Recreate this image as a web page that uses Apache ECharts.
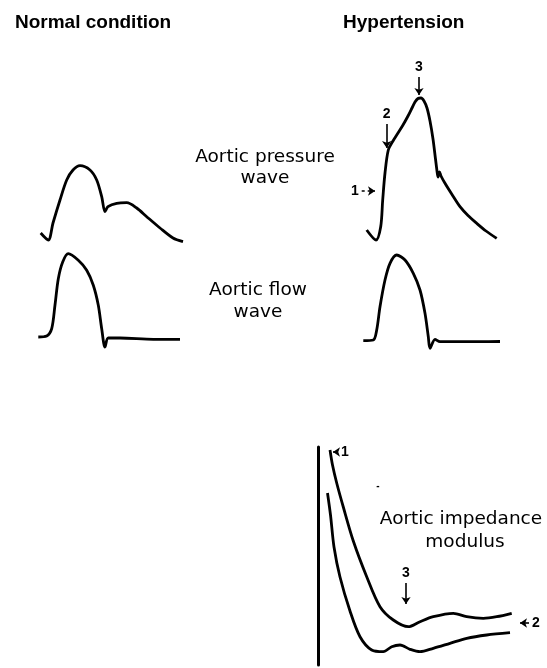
<!DOCTYPE html>
<html><head><meta charset="utf-8">
<script src="https://cdn.jsdelivr.net/npm/echarts@6/dist/echarts.min.js"></script>
<style>html,body{margin:0;padding:0;background:#fff}#c{width:547px;height:668px}</style>
</head><body><div id="c"></div>
<script>
// Values, in each panel's own units (time, amplitude)
const normalPressure = [[2.7,12],[10.3,5],[15,22],[22,45],[28.7,65],[35,75],[42,79.3],[52,75],[58.7,65],[63.7,48.3],[67,33.3],[70,38.3],[78.7,41.7],[88.7,42.3],[98.7,37],[108.7,28.3],[122,17],[135,7],[145,3.3]];
const hyperPressure = [[26.7,15],[36,5],[40.7,18.3],[42.7,45],[45,72],[48.3,95],[53,104],[58,112],[63,120],[68,129],[72,137],[75,143],[78,146.5],[81,147],[84,144],[87,137],[90,124],[93,106],[95.5,86],[97,74],[98,68],[99.5,73],[101,69],[105,61.7],[112,50.5],[120,38.3],[128,29.5],[136.7,21.7],[146,14],[156.7,6.7]];
const normalFlow = [[8.3,15],[16.7,16],[21.7,23.3],[25,47],[28.3,73.3],[32.7,90],[38.3,98.3],[48.3,91.7],[56.7,81.7],[63.3,66.7],[68.3,46.7],[71.7,23.3],[75,5],[78.3,14],[90,14],[123.3,12.7],[150,12.7]];
const hyperFlow = [[13.3,9.3],[23.3,10],[26.7,20],[30,43.3],[35,70],[40,86.7],[46.7,95],[55,90],[63.3,76.7],[70,60],[75,36.7],[78.3,13.3],[80,1.7],[85,10.7],[90,8.3],[130,8.3],[150,8.5]];
const impedanceHyper = [[12,215],[14.5,200],[18.7,182],[25.3,158],[35.3,124],[48.7,88.3],[62,58.3],[75.3,45],[90.3,38.3],[102,43.3],[115.3,48.3],[135.3,51.7],[148.7,48.3],[165.3,46.7],[178.7,48.3],[193.7,51.7]];
const impedanceNormal = [[9.5,172],[12.5,150],[16,118],[22,88],[32,54],[42,28.3],[53.7,15],[65.3,13.3],[73.7,18.3],[82,20],[92,15.7],[102,13.3],[115.3,16.7],[132,21.7],[148.7,26.7],[168.7,30],[192,32.3]];

// Annotations (panel units)
const pressureMarks = [
  {label:'3', from:[79,168], to:[79,150]},
  {label:'2', from:[46.7,121], to:[46.7,97]},
  {label:'1', from:[21.7,54], to:[35,54], dashed:true}
];
const impedanceMarks = [
  {label:'3', from:[88,82], to:[88,61]},
  {label:'2', from:[211,42], to:[202,42]},
  {label:'1', from:[20,213], to:[15,213]}
];

const titles = ['Normal condition','Hypertension'];
const rowLabels = [['Aortic pressure','wave'],['Aortic flow','wave'],['Aortic impedance','modulus']];

const panels = [
  {left:38, top:145, width:150, height:100},
  {left:340, top:50, width:160, height:195},
  {left:30, top:242, width:160, height:110},
  {left:350, top:240, width:160, height:110},
  {left:318, top:447, width:229, height:218}
];

const chart = echarts.init(document.getElementById('c'), null, {renderer:'canvas'});
const grid = panels.map(p => ({left:p.left, top:p.top, width:p.width, height:p.height, containLabel:false}));
const xAxis = panels.map((p,i) => ({gridIndex:i, type:'value', min:0, max:p.width, show:false}));
const yAxis = panels.map((p,i) => ({gridIndex:i, type:'value', min:0, max:p.height,
  show: i===4, axisLine:{show:i===4, lineStyle:{color:'#000', width:3}}, axisTick:{show:false}, axisLabel:{show:false}, splitLine:{show:false}}));

function curve(data, idx, marks){
  const s = {type:'line', xAxisIndex:idx, yAxisIndex:idx, data:data, showSymbol:false, smooth:0.3,
    lineStyle:{color:'#000', width:2.8}, silent:true, animation:false};
  if (marks) {
    s.markLine = {silent:true, symbol:['none','arrow'], symbolSize:7, animation:false,
      label:{show:false},
      data: marks.map(m => [{coord:m.from, lineStyle:{color:'#000', width:1.6, type:m.dashed?[3,3]:'solid'}}, {coord:m.to}])};
    s.markPoint = {silent:true, symbol:'circle', symbolSize:0, animation:false,
      data: marks.map(m => {
        const horiz = m.from[1]===m.to[1];
        return {coord:m.from, label:{show:true, formatter:m.label, color:'#000', fontFamily:'Liberation Sans', fontWeight:'bold', fontSize:14,
          position: horiz ? (m.to[0]<m.from[0] ? 'right' : 'left') : 'top', distance: 3}};
      })};
  }
  return s;
}

const series = [
  curve(normalPressure, 0),
  curve(hyperPressure, 1, pressureMarks),
  curve(normalFlow, 2),
  curve(hyperFlow, 3),
  curve(impedanceHyper, 4, impedanceMarks),
  curve(impedanceNormal, 4)
];

const labelStyle = {fill:'#000', font:'18.5px "DejaVu Sans"', textAlign:'center', textVerticalAlign:'middle'};
const titleStyle = {fill:'#000', font:'bold 19px "Liberation Sans"', textAlign:'left', textVerticalAlign:'middle'};
const labelPos = [[265,157,178],[258,290,312],[461,519,542]];
const graphic = [
  {type:'text', left:15, top:13, style:Object.assign({text:titles[0]}, titleStyle)},
  {type:'text', left:343, top:13, style:Object.assign({text:titles[1]}, titleStyle)},
  {type:'text', x:378, y:486, style:{text:'-', fill:'#000', font:'bold 10px "Liberation Sans"', textAlign:'center', textVerticalAlign:'middle'}}
];
rowLabels.forEach((r,i) => {
  graphic.push({type:'text', x:labelPos[i][0], y:labelPos[i][1], style:Object.assign({text:r[0]}, labelStyle)});
  graphic.push({type:'text', x:labelPos[i][0] + (i===2 ? 4 : 0), y:labelPos[i][2], style:Object.assign({text:r[1]}, labelStyle)});
});

chart.setOption({animation:false, backgroundColor:'#fff', grid, xAxis, yAxis, series, graphic});
</script></body></html>
